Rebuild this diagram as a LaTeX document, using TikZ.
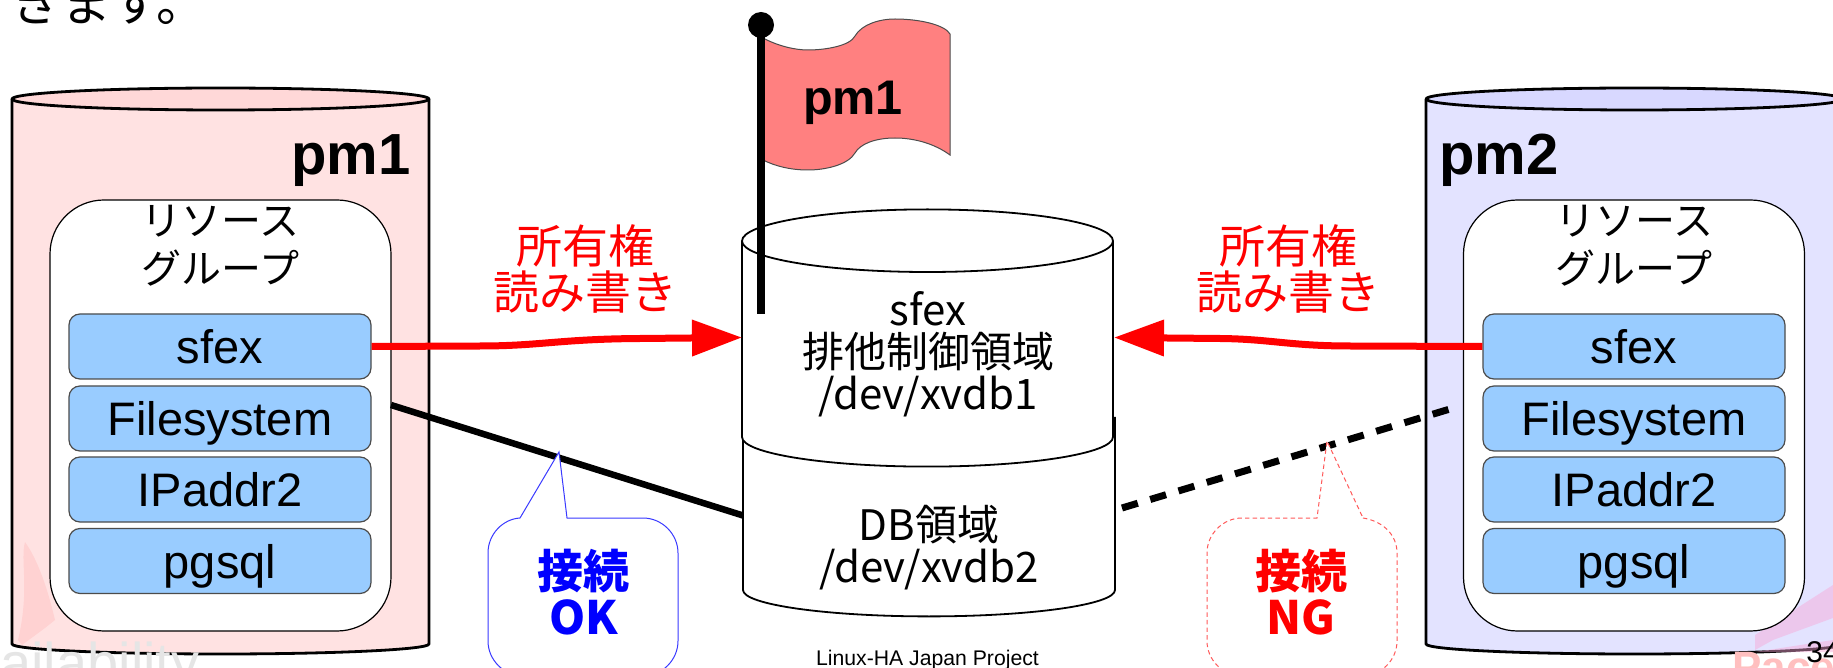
\documentclass[tikz,border=0pt]{standalone}
\usepackage{fontspec}
\setmainfont{Liberation Sans}
\newfontfamily\cjk{Noto Sans CJK JP}
\usetikzlibrary{arrows.meta}
\newcommand{\fsz}[1]{\fontsize{#1}{#1}\selectfont}
\definecolor{pinkbody}{HTML}{FFE2E2}
\definecolor{pinktop}{HTML}{FFD8D8}
\definecolor{lavbody}{HTML}{E3E3FF}
\definecolor{lavtop}{HTML}{D8D8FF}
\definecolor{boxblue}{HTML}{99CCFF}
\definecolor{flagred}{HTML}{FF8080}
\definecolor{okblue}{HTML}{0000FF}
\definecolor{okline}{HTML}{3A3AFF}
\definecolor{ngline}{HTML}{FF5A5A}
\tikzset{
  outercyl/.style={draw=black,line width=1.4pt,line join=round},
  diskcyl/.style={draw=black,line width=0.9pt,fill=white,line join=round},
  groupbox/.style={draw=black,line width=0.6pt,fill=white,rounded corners=27pt,
    minimum width=170.5pt,minimum height=215.5pt,inner sep=0pt},
  resbox/.style={draw=black!70,line width=0.6pt,fill=boxblue,rounded corners=5.5pt,
    minimum width=151pt,minimum height=32.5pt,inner xsep=0pt,inner ysep=0pt,
    text height=25pt,text depth=7.5pt,font=\fsz{23.5pt}},
  grouplabel/.style={align=center,inner sep=0pt,font=\cjk\fsz{20pt}},
  hostlabel/.style={anchor=base,inner sep=0pt,font=\bfseries\fsz{29pt}},
  ownlabel/.style={align=center,inner sep=0pt,text=red,font=\cjk\fsz{23pt}},
  disklabel/.style={align=center,inner sep=0pt,font=\cjk\fsz{21pt}},
  ownarrow/.style={draw=red,line width=3.5pt,-{Triangle[length=25pt,width=17.5pt]}},
  conn/.style={draw=black,line width=3.25pt},
  ngconn/.style={draw=black,line width=3.5pt,dash pattern=on 8.25pt off 6.5pt},
  okcall/.style={draw=okline,line width=0.5pt,fill=white},
  ngcall/.style={draw=ngline,line width=0.5pt,fill=white,dash pattern=on 2.2pt off 1.6pt},
  calltext/.style={align=center,inner sep=0pt,font=\cjk\bfseries\fsz{23pt}},
  wm/.style={draw=none,opacity=.45},
}
\begin{document}
\begin{tikzpicture}[x=0.5pt,y=-0.5pt]
\useasboundingbox (0,0) rectangle (1833,668);
\clip (0,0) rectangle (1833,668);
\fill[white] (0,0) rectangle (1833,668);

% clipped slide text
\node[anchor=base west,inner sep=0pt,font=\cjk\fsz{25pt}] (slidetext) at (11,22) {きます。};

% left cylinder
\path[outercyl,fill=pinkbody] (12,99) -- (12,644) arc[start angle=180,end angle=360,x radius=104.25pt,y radius=5pt] -- (429,99) -- cycle;
\path[outercyl,fill=pinktop] (220.5,99) ellipse[x radius=208.5,y radius=11];
% right cylinder
\path[outercyl,fill=lavbody] (1426,99) -- (1426,644) arc[start angle=180,end angle=360,x radius=104.25pt,y radius=5pt] -- (1843,99) -- cycle;
\path[outercyl,fill=lavtop] (1634.5,99) ellipse[x radius=208.5,y radius=11];

% faint background logos
\fill[wm,red!25] (18,640) .. controls (30,590) and (20,560) .. (25,542) .. controls (38,560) and (48,590) .. (55,620) -- (45,628) -- (22,645) -- cycle;
\fill[wm,magenta!35] (1833,585) -- (1755,635) -- (1755,650) -- (1773,640) -- (1833,618) -- cycle;
\fill[wm,magenta!35] (1755,652) -- (1833,640) -- (1833,652) -- cycle;
\node[anchor=base west,inner sep=0pt,text=black!10,font=\fsz{28pt}] (wmleft) at (0,682) {ailability};
\node[anchor=base west,inner sep=0pt,text=red!25,font=\bfseries\fsz{22pt}] (wmright) at (1732,682) {Pacemaker};

% resource groups
\node[groupbox] (grpL) at (220.5,415.5) {};
\node[groupbox] (grpR) at (1634,415.5) {};
\node[grouplabel] (grpLt) at (220.5,246) {リソース\\[4pt]グループ};
\node[grouplabel] (grpRt) at (1634,246) {リソース\\[4pt]グループ};

\node[resbox] (sfexL) at (220,346.5) {sfex};
\node[resbox] (fsL)   at (220,418.5) {Filesystem};
\node[resbox] (ipL)   at (220,489.5) {IPaddr2};
\node[resbox] (pgL)   at (220,561)   {pgsql};
\node[resbox] (sfexR) at (1634,346.5) {sfex};
\node[resbox] (fsR)   at (1634,418.5) {Filesystem};
\node[resbox] (ipR)   at (1634,489.5) {IPaddr2};
\node[resbox] (pgR)   at (1634,561)   {pgsql};

\node[hostlabel,anchor=base east] (hostL) at (411,175) {pm1};
\node[hostlabel,anchor=base west] (hostR) at (1439,175) {pm2};

% shared disks
\path[diskcyl] (743,417) -- (743,590) arc[start angle=180,end angle=360,x radius=93pt,y radius=13.2pt] -- (1115,417);
\path[diskcyl] (742,241) -- (742,437) arc[start angle=180,end angle=360,x radius=92.75pt,y radius=14.8pt] -- (1113,241) arc[start angle=0,end angle=180,x radius=92.75pt,y radius=15.8pt] -- cycle;
\draw[line width=0.9pt] (742,241) arc[start angle=180,end angle=360,x radius=92.75pt,y radius=15.5pt];
\coordinate (diskAL) at (742,337.5);
\coordinate (diskAR) at (1114,337.5);
\coordinate (diskBL) at (743,515.5);
\coordinate (diskBR) at (1122,508);
\coordinate (grpLc) at (391,405);
\coordinate (grpRc) at (1450,409);

\node[disklabel] (diskAt) at (928,354) {sfex\\排他制御領域\\/dev/xvdb1};
\node[disklabel] (diskBt) at (929,548) {DB領域\\/dev/xvdb2};

% flag
\draw[draw=black!70,line width=0.5pt,fill=flagred]
  (763,38) .. controls (778,46) and (795,50) .. (808,50)
  .. controls (825,50) and (850,46) .. (855,36)
  .. controls (862,24) and (880,19) .. (895,19)
  .. controls (920,19) and (945,25) .. (950,34)
  -- (950,155)
  .. controls (935,144) and (915,138) .. (895,138)
  .. controls (875,138) and (860,144) .. (855,153)
  .. controls (848,165) and (825,170) .. (808,170)
  .. controls (790,170) and (775,166) .. (763,160) -- cycle;
\fill[black] (757.3,36) rectangle (764.7,314);
\fill[black] (761,25) circle[radius=13];
\node[hostlabel,anchor=base,font=\bfseries\fsz{24.3pt}] (flagt) at (853,115) {pm1};

% ownership arrows
\node[ownlabel] (ownLt) at (585,269) {所有権\\読み書き};
\node[ownlabel] (ownRt) at (1288,269) {所有権\\読み書き};
\draw[ownarrow] (sfexL.east) -- (480,346) .. controls (540,346) and (560,339) .. (640,338.5) -- (diskAL);
\draw[ownarrow] (sfexR.west) -- (1350,346) .. controls (1290,346) and (1270,339) .. (1220,338.5) -- (diskAR);

% connections
\draw[conn] (grpLc) -- (diskBL);
\draw[ngconn] (diskBR) -- (grpRc);

% callouts
\draw[okcall] (567,518) -- (643,518) .. controls (662,518) and (678,534) .. (678,553) -- (678,641)
  .. controls (678,660) and (662,676) .. (643,676) -- (523,676)
  .. controls (504,676) and (488,660) .. (488,641) -- (488,553)
  .. controls (488,534) and (503,519) .. (520,518) -- (559,452) -- cycle;
\node[calltext,text=okblue] (okt) at (583.5,592) {接続\\OK};
\draw[ngcall] (1363,518) .. controls (1382,521) and (1397,534) .. (1397,553) -- (1397,641)
  .. controls (1397,660) and (1381,676) .. (1362,676) -- (1242,676)
  .. controls (1223,676) and (1207,660) .. (1207,641) -- (1207,553)
  .. controls (1207,534) and (1223,518) .. (1242,518) -- (1317,518) -- (1327,441) -- cycle;
\node[calltext,text=red] (ngt) at (1301,592) {接続\\NG};

% footer
\node[anchor=base,inner sep=0pt,font=\fsz{10.6pt}] (foot) at (927.5,665) {Linux-HA Japan Project};
\node[anchor=base west,inner sep=0pt,font=\fsz{15pt}] (pageno) at (1806,662) {34};
\end{tikzpicture}
\end{document}
